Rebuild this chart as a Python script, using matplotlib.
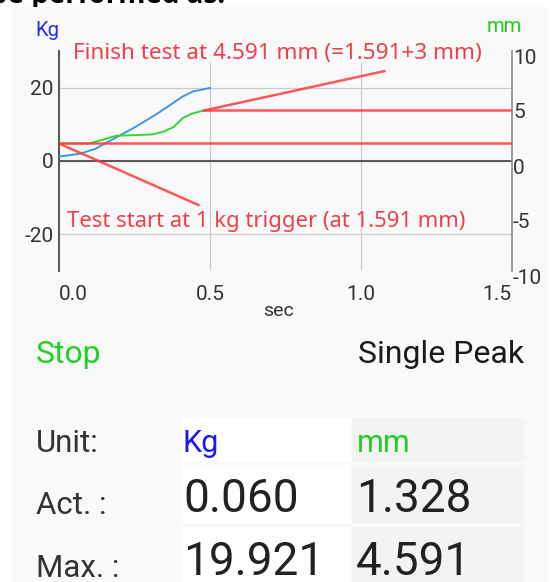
import matplotlib.pyplot as plt
from matplotlib.patches import Rectangle
from matplotlib.transforms import ScaledTranslation

plt.rcParams['font.family'] = ['Roboto', 'DejaVu Sans']
plt.rcParams['axes.unicode_minus'] = False

# values
time_force = [0.0, 0.07, 0.12, 0.18, 0.245, 0.32, 0.41, 0.445, 0.50]
force_kg = [1.2, 2.0, 3.3, 6.0, 8.9, 12.6, 17.6, 19.0, 19.9]
time_disp = [0.0, 0.10, 0.14, 0.19, 0.25, 0.31, 0.35, 0.38, 0.41, 0.44, 0.46, 0.48]
disp_mm = [1.591, 1.591, 1.9, 2.3, 2.35, 2.42, 2.7, 3.1, 3.9, 4.3, 4.45, 4.591]

trigger_mm = 1.591
finish_mm = 4.591
finish_time = 0.48
# hand drawn pointer lines (time, mm)
start_pointer_t = [0.0, 0.462]
start_pointer_mm = [trigger_mm, -4.0]
finish_pointer_t = [finish_time, 1.078]
finish_pointer_mm = [finish_mm, 8.17]

x_ticks = [0.0, 0.5, 1.0, 1.5]
kg_ticks = [-20, 0, 20]
mm_ticks = [-10, -5, 0, 5, 10]

finish_note = "Finish test at 4.591 mm (=1.591+3 mm)"
start_note = "Test start at 1 kg trigger (at 1.591 mm)"

row_labels = ["Unit:", "Act. :", "Max. :"]
kg_column = ["Kg", "0.060", "19.921"]
mm_column = ["mm", "1.328", "4.591"]

W, H = 552, 582
RED = '#ff3a3a'
NOTE_RED = '#ef3f4a'
BLUE_LINE = '#3d98e6'
GREEN_LINE = '#33d633'
TXT = '#333333'
NOTE_FONT = ['Noto Sans', 'DejaVu Sans']


def fx(px):
    return px / W


def fy(py):
    return 1 - py / H


fig = plt.figure(figsize=(W / 100, H / 100), dpi=100)
fig.patch.set_facecolor('white')

# text of the web page above the screenshot, mostly cut off
fig.text(fx(-10), fy(3), "be performed as:", fontsize=20, fontweight='bold',
         family=['Open Sans', 'DejaVu Sans'], color='black', va='baseline', zorder=-3)
# app panel
fig.patches.append(Rectangle((fx(12), 0), fx(548) - fx(12), fy(7), transform=fig.transFigure,
                             facecolor='#f9f9f9', edgecolor='none', zorder=-2))

ax = fig.add_axes([fx(59), fy(271), fx(511.7) - fx(59), fy(51) - fy(271)])
ax.patch.set_visible(False)
ax.set_xlim(0, 1.5)
ax.set_ylim(-30, 30)
ax.set_yticks(kg_ticks)
ax.set_xticks(x_ticks)
ax.set_xticklabels([f"{t:.1f}" for t in x_ticks])
lbls = ax.get_xticklabels()
lbls[0].set_ha('left')
lbls[-1].set_ha('right')
ax.tick_params(length=0, labelsize=15, labelcolor=TXT)
ax.tick_params(axis='x', pad=10)
ax.tick_params(axis='y', pad=4)
for s in ['top', 'bottom', 'right']:
    ax.spines[s].set_visible(False)
ax.spines['left'].set_color('#5a5a5a')
ax.spines['left'].set_linewidth(1.5)
ax.yaxis.grid(True, color='#cccccc', lw=0.9)
ax.axhline(0, color='#5a5a5a', lw=1.5, zorder=2)
ax.vlines(x_ticks[1:-1], -30, 27.1, color='#cccccc', lw=0.9, zorder=1)

ax.plot(time_force, force_kg, color=BLUE_LINE, lw=1.4, zorder=3)

ax2 = ax.twinx()
ax2.patch.set_visible(False)
ax2.set_ylim(-10, 10)
ax2.set_yticks(mm_ticks)
ax2.tick_params(length=0, labelsize=15, labelcolor=TXT, pad=1)
for s in ['top', 'bottom', 'left']:
    ax2.spines[s].set_visible(False)
ax2.spines['right'].set_color('#8a8a8a')
ax2.spines['right'].set_linewidth(1.2)
shift = ScaledTranslation(0, -5 / 100, fig.dpi_scale_trans)
for lab in ax2.get_yticklabels():
    lab.set_transform(lab.get_transform() + shift)

ax2.plot(time_disp, disp_mm, color=GREEN_LINE, lw=1.4, zorder=3)
ax2.hlines(trigger_mm, 0, 1.5, color=RED, lw=1.8, alpha=0.85, zorder=4)
ax2.hlines(finish_mm, finish_time, 1.5, color=RED, lw=1.8, alpha=0.85, zorder=4)
ax2.plot(start_pointer_t, start_pointer_mm, color=RED, lw=1.8, alpha=0.85, zorder=4)
ax2.plot(finish_pointer_t, finish_pointer_mm, color=RED, lw=1.8, alpha=0.85, zorder=4)

ax.text(0.047, 27.7, finish_note, color=NOTE_RED, fontsize=16.2, family=NOTE_FONT,
        va='baseline', ha='left', zorder=5)
ax.text(0.027, -18.1, start_note, color=NOTE_RED, fontsize=15.9, family=NOTE_FONT,
        va='baseline', ha='left', zorder=5)

fig.text(fx(35), fy(36), "Kg", color='#2a2af0', fontsize=14.5, va='baseline')
fig.text(fx(487), fy(32), "mm", color='#22cc22', fontsize=14.5, va='baseline')
fig.text(fx(279), fy(311), "sec", color=TXT, fontsize=14, ha='center', va='center')

# status row
fig.text(fx(36), fy(363), "Stop", color='#22d022', fontsize=23, va='baseline')
fig.text(fx(524), fy(363), "Single Peak", color='#1a1a1a', fontsize=23, va='baseline', ha='right')

# value table
row_top = [418, 465, 527]
row_bot = [462, 523, 582]
baselines = [452, 513, 576]
for i in range(3):
    fig.patches.append(Rectangle((fx(182), fy(row_bot[i])), fx(351) - fx(182), fy(row_top[i]) - fy(row_bot[i]),
                                 transform=fig.transFigure, facecolor='white', edgecolor='none', zorder=-1))
    fig.patches.append(Rectangle((fx(352), fy(row_bot[i])), fx(524) - fx(352), fy(row_top[i]) - fy(row_bot[i]),
                                 transform=fig.transFigure, facecolor='#f3f3f3', edgecolor='none', zorder=-1))
    fig.text(fx(36), fy(baselines[i] + (1 if i else 0)), row_labels[i], color=TXT, fontsize=22.5, va='baseline')

fig.text(fx(183), fy(baselines[0]), kg_column[0], color='#1a1aee', fontsize=22, va='baseline')
fig.text(fx(357), fy(baselines[0]), mm_column[0], color='#22cc22', fontsize=22, va='baseline')
for i in (1, 2):
    fig.text(fx(183), fy(baselines[i] - 1), kg_column[i], color='#222222', fontsize=33, va='baseline')
    fig.text(fx(356), fy(baselines[i] - 1), mm_column[i], color='#222222', fontsize=33, va='baseline')

fig.savefig('out.png', dpi=100)
